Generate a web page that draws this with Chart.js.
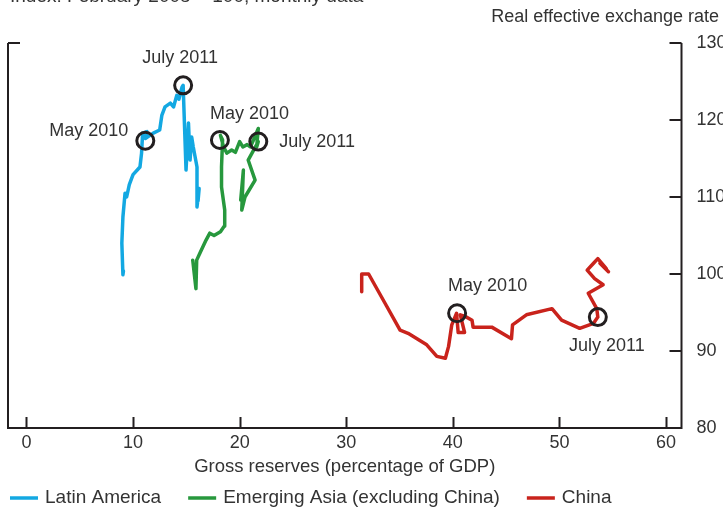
<!DOCTYPE html>
<html>
<head>
<meta charset="utf-8">
<script src="https://cdn.jsdelivr.net/npm/chart.js@4.4.1/dist/chart.umd.min.js"></script>
<style>
  html, body { margin: 0; padding: 0; background: #fff; }
</style>
</head>
<body>
<canvas id="chart" width="723" height="510"></canvas>
<script>
// Gross reserves vs real effective exchange rate, monthly data

const seriesNames = ["Latin America", "Emerging Asia (excluding China)", "China"];
const seriesColors = ["#13A8E2", "#27983D", "#C9231C"];

// Latin America
const latamX = [9.1, 9.05, 8.95, 9.05, 9.25, 9.4, 9.65, 10.0, 10.65, 10.8, 10.9, 11.3, 11.15, 11.9, 12.5, 12.7,
                13.0, 13.5, 13.8, 14.1, 14.3, 14.6, 14.7, 14.97, 15.2, 15.35, 15.5, 15.65, 16.0, 16.0, 16.2, 16.1];
const latamY = [100.4, 99.9, 104.0, 107.4, 110.5, 110.0, 111.6, 112.9, 113.9, 115.7, 118.3, 118.5, 117.6, 118.3, 118.7, 120.6,
                121.7, 122.2, 121.7, 123.2, 122.7, 124.3, 124.5, 113.5, 119.6, 114.8, 117.8, 116.5, 113.9, 108.7, 111.1, 109.5];

// Emerging Asia (excluding China)
const asiaX = [15.6, 15.9, 15.97, 16.3, 16.85, 17.2, 17.6, 18.2, 18.55, 18.6, 18.3, 18.3, 18.4, 18.2, 18.5, 18.8,
               19.25, 19.6, 20.0, 20.3, 20.7, 21.0, 21.3, 21.75, 21.6, 21.75, 20.8, 21.45, 20.5, 20.2, 20.35, 20.1];
const asiaY = [101.8, 98.1, 101.8, 102.8, 104.4, 105.3, 105.0, 105.5, 106.2, 108.3, 111.3, 113.9, 117.4, 118.0, 116.5, 115.7,
               116.1, 115.8, 117.2, 116.5, 116.8, 116.5, 117.4, 118.9, 116.5, 117.2, 114.8, 112.2, 110.0, 108.3, 113.5, 109.6];

// China
const chinaX = [31.45, 31.45, 32.1, 33.6, 35.05, 35.8, 37.55, 38.5, 39.3, 39.6, 39.9, 40.35, 40.5, 41.1, 40.7, 41.15,
                41.8, 41.9, 43.65, 45.5, 45.6, 46.9, 49.3, 50.2, 51.9, 53.2, 53.6, 53.5, 52.7, 54.1, 53.3, 52.6,
                53.2, 53.6, 54.4, 53.8, 54.6];
const chinaY = [97.7, 100.0, 100.0, 96.3, 92.7, 92.3, 90.8, 89.3, 89.05, 90.6, 93.4, 94.9, 92.4, 92.4, 94.7, 94.5,
                94.0, 93.1, 93.1, 91.6, 93.4, 94.7, 95.5, 94.0, 92.95, 93.6, 94.4, 95.5, 97.5, 98.6, 99.4, 100.5,
                101.4, 102.0, 100.7, 101.4, 100.3];

const xTicks = [0, 10, 20, 30, 40, 50, 60];
const yTicks = [80, 90, 100, 110, 120, 130];

// circled months
const markX = [11.15, 14.7, 18.15, 21.75, 40.4, 53.6];
const markY = [117.3, 124.5, 117.4, 117.2, 94.9, 94.4];
const markText = ["May 2010", "July 2011", "May 2010", "July 2011", "May 2010", "July 2011"];
// where each label sits relative to its circle: dx, dy (px), align
const markPlace = [[-17, -10, "right"], [-3, -27, "center"], [-10, -26, "left"],
                   [21, 0, "left"], [-9, -27, "left"], [9, 29, "center"]];

const FONT = "'Liberation Sans', Arial, sans-serif";
const FS = 18;
const INK = "#231f20";
const TXT = "#333333";

function pts(xs, ys) {
  return xs.map((v, i) => ({ x: v, y: ys[i] }));
}

const frame = {
  id: "frame",
  afterDatasetsDraw(chart) {
    const { ctx, chartArea: a, scales: { x, y } } = chart;
    ctx.save();
    ctx.strokeStyle = INK;
    ctx.lineWidth = 2;
    ctx.beginPath();
    ctx.moveTo(a.left, a.top);
    ctx.lineTo(a.left, a.bottom);
    ctx.lineTo(a.right + 1, a.bottom);
    ctx.moveTo(a.right, a.bottom);
    ctx.lineTo(a.right, a.top);
    // short tick at the top of the left edge
    ctx.moveTo(a.left, a.top);
    ctx.lineTo(a.left + 12, a.top);
    xTicks.forEach(v => {
      const px = Math.round(x.getPixelForValue(v)) + 0.5;
      ctx.moveTo(px, a.bottom);
      ctx.lineTo(px, a.bottom - 11);
    });
    yTicks.forEach(v => {
      const py = Math.round(y.getPixelForValue(v));
      ctx.moveTo(a.right, py);
      ctx.lineTo(a.right - 12, py);
    });
    ctx.stroke();

    ctx.fillStyle = TXT;
    ctx.font = FS + "px " + FONT;
    ctx.textBaseline = "middle";
    markText.forEach((t, i) => {
      const p = markPlace[i];
      ctx.textAlign = p[2];
      ctx.fillText(t, x.getPixelForValue(markX[i]) + p[0], y.getPixelForValue(markY[i]) + p[1]);
    });

    // header texts
    ctx.textAlign = "right";
    ctx.fillText("Real effective exchange rate", 719, 17);
    ctx.textAlign = "left";
    ctx.textBaseline = "alphabetic";
    ctx.font = "19px " + FONT;
    ctx.fillText("Index: February 2008 = 100; monthly data", 10, 2);

    // legend
    ctx.textBaseline = "middle";
    let lx = 10;
    const ly = 498;
    seriesNames.forEach((n, i) => {
      ctx.strokeStyle = seriesColors[i];
      ctx.lineWidth = 3.5;
      ctx.beginPath();
      ctx.moveTo(lx, ly);
      ctx.lineTo(lx + 28, ly);
      ctx.stroke();
      ctx.fillText(n, lx + 35, ly);
      lx += 35 + ctx.measureText(n).width + 27;
    });
    ctx.restore();
  }
};

const lineSet = (name, data, color) => ({
  label: name,
  data: data,
  showLine: true,
  borderColor: color,
  backgroundColor: color,
  borderWidth: 3.5,
  pointRadius: 0,
  tension: 0,
  borderJoinStyle: "round",
  borderCapStyle: "round",
  order: 1
});

new Chart(document.getElementById("chart"), {
  type: "scatter",
  data: {
    datasets: [
      {
        label: "marks",
        data: pts(markX, markY),
        pointRadius: 8.5,
        pointBorderWidth: 3,
        pointBorderColor: INK,
        pointBackgroundColor: "rgba(0,0,0,0)",
        showLine: false,
        order: 0
      },
      lineSet(seriesNames[0], pts(latamX, latamY), seriesColors[0]),
      lineSet(seriesNames[1], pts(asiaX, asiaY), seriesColors[1]),
      lineSet(seriesNames[2], pts(chinaX, chinaY), seriesColors[2])
    ]
  },
  options: {
    responsive: false,
    animation: false,
    devicePixelRatio: 1,
    layout: { autoPadding: false, padding: { left: 8, right: 0, top: 43, bottom: 28 } },
    plugins: { legend: { display: false }, tooltip: { enabled: false } },
    scales: {
      x: {
        type: "linear",
        min: -1.73,
        max: 61.45,
        afterBuildTicks: s => { s.ticks = xTicks.map(v => ({ value: v })); },
        afterFit: s => { s.height = 54; },
        grid: { display: false, drawTicks: false },
        border: { display: false },
        ticks: { font: { family: FONT, size: FS }, color: TXT, padding: 4 },
        title: {
          display: true,
          text: "Gross reserves (percentage of GDP)",
          font: { family: FONT, size: 18.5 },
          color: TXT,
          padding: { top: 0, bottom: 4 }
        }
      },
      y: {
        type: "linear",
        position: "right",
        min: 80,
        max: 130,
        afterBuildTicks: s => { s.ticks = yTicks.map(v => ({ value: v })); },
        afterFit: s => { s.width = 41.5; },
        grid: { display: false, drawTicks: false },
        border: { display: false },
        ticks: { font: { family: FONT, size: FS }, color: TXT, padding: 15 }
      }
    }
  },
  plugins: [frame]
});
</script>
</body>
</html>
